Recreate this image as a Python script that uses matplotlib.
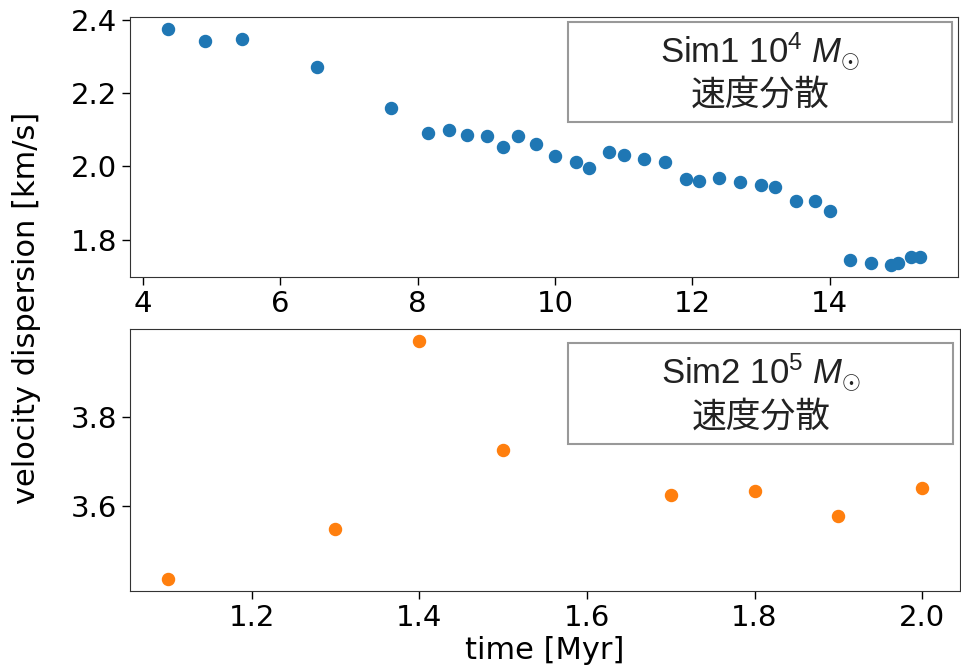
import matplotlib
matplotlib.use("Agg")
import matplotlib.pyplot as plt
from matplotlib.patches import Rectangle

# Sim1 (10^4 Msun)
t_sim1 = [4.36, 4.90, 5.44, 6.53, 7.61, 8.15, 8.45, 8.72, 9.01, 9.24, 9.46, 9.73,
          10.00, 10.31, 10.50, 10.79, 11.01, 11.30, 11.60, 11.91, 12.10, 12.39,
          12.70, 13.00, 13.20, 13.51, 13.79, 14.00, 14.29, 14.60, 14.89, 15.00,
          15.19, 15.32]
v_sim1 = [2.375, 2.341, 2.348, 2.271, 2.159, 2.090, 2.100, 2.086, 2.083, 2.053,
          2.083, 2.060, 2.029, 2.012, 1.996, 2.039, 2.030, 2.019, 2.012, 1.965,
          1.961, 1.968, 1.958, 1.948, 1.944, 1.904, 1.905, 1.877, 1.745, 1.737,
          1.730, 1.737, 1.752, 1.752]

# Sim2 (10^5 Msun)
t_sim2 = [1.1, 1.3, 1.4, 1.5, 1.7, 1.8, 1.9, 2.0]
v_sim2 = [3.435, 3.547, 3.971, 3.726, 3.623, 3.632, 3.577, 3.640]

plt.rcParams['font.size'] = 21
plt.rcParams['mathtext.fontset'] = 'custom'
plt.rcParams['mathtext.rm'] = 'Liberation Sans'
plt.rcParams['mathtext.it'] = 'Liberation Sans:italic'

fig = plt.figure(figsize=(9.61, 6.70), dpi=100)
ax1 = fig.add_axes([0.1353, 0.5866, 0.8616, 0.388])
ax2 = fig.add_axes([0.1353, 0.1184, 0.8636, 0.390])

ax1.scatter(t_sim1, v_sim1, s=75, color='#1f77b4')
ax2.scatter(t_sim2, v_sim2, s=75, color='#ff7f0e')

ax1.set_yticks([1.8, 2.0, 2.2, 2.4])
ax1.set_xticks([4, 6, 8, 10, 12, 14])
ax2.set_yticks([3.6, 3.8])
ax2.set_xticks([1.2, 1.4, 1.6, 1.8, 2.0])

for ax in (ax1, ax2):
    ax.tick_params(length=6, width=1)
    for s in ax.spines.values():
        s.set_color('#333333')


def label_box(ax, x0, y0, x1, y1, line1):
    ax.add_patch(Rectangle((x0, y0), x1 - x0, y1 - y0, transform=ax.transAxes,
                           facecolor='white', edgecolor='#999999', lw=1.5, zorder=3))
    xc = (x0 + x1) / 2
    h = y1 - y0
    ax.text(xc, y0 + h * 0.71, line1, transform=ax.transAxes, ha='center',
            va='center', fontsize=25, family='Liberation Sans', color='#222222',
            zorder=4)
    ax.text(xc, y0 + h * 0.27, '速度分散', transform=ax.transAxes, ha='center',
            va='center', fontsize=25, family=['Noto Sans CJK JP', 'DejaVu Sans'],
            color='#222222', zorder=4)


label_box(ax1, 0.529, 0.596, 0.993, 0.981, r'Sim1 10$^4$ $M_{\odot}$')
label_box(ax2, 0.528, 0.560, 0.992, 0.949, r'Sim2 10$^5$ $M_{\odot}$')

ax2.set_xlabel('time [Myr]', labelpad=3, fontsize=22)
fig.text(0.028, 1 - 308 / 670, 'velocity dispersion [km/s]', rotation=90,
         ha='center', va='center', fontsize=22)

fig.savefig('out.png', dpi=100)
